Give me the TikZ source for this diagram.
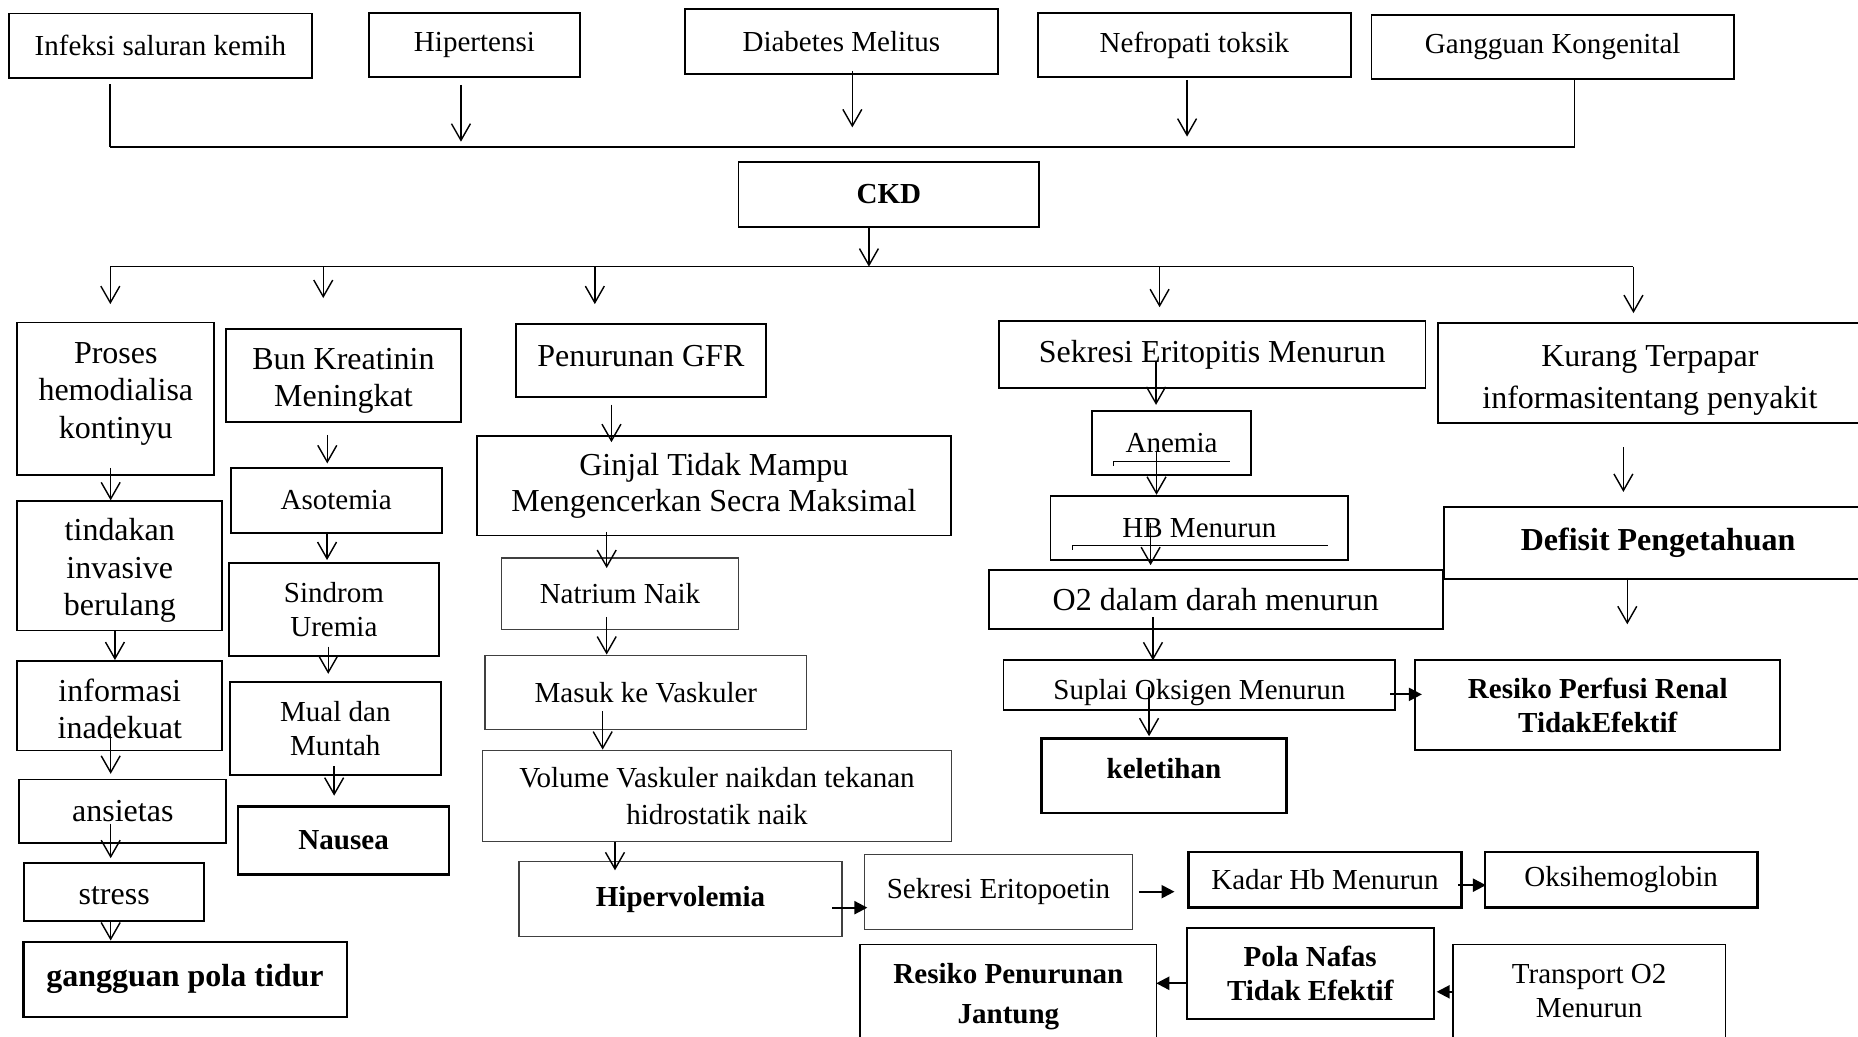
\documentclass[tikz,border=0pt]{standalone}
\usepackage{fontspec}
\setmainfont{Liberation Serif}
\usetikzlibrary{arrows.meta}
\tikzset{
 box/.style={draw=black, line width=1.5pt, inner sep=0pt, align=center, font=\fontsize{24.5}{28.5}\selectfont},
 big/.style={font=\fontsize{27}{31.5}\selectfont},
 bigb/.style={font=\fontsize{27}{31.5}\selectfont\bfseries},
 smb/.style={font=\fontsize{24.5}{28.5}\selectfont\bfseries},
 thinb/.style={line width=1pt, draw=black!75},
 thickb/.style={line width=2pt},
 tup/.style={text depth=#1},
 tdn/.style={text height=#1},
 ln/.style={line width=1.4pt},
 arr/.style={line width=1.2pt, -{Straight Barb[length=14pt,width=16pt,line width=1.2pt]}},
 tarr/.style={line width=1.8pt, -{Triangle[length=11pt,width=11pt]}},
}
\newcommand\bx[7][]{%
  \pgfmathsetmacro\bxW{#5-#3}%
  \pgfmathsetmacro\bxH{#6-#4}%
  \pgfmathsetmacro\bxX{(#3+#5)/2}%
  \pgfmathsetmacro\bxY{(#4+#6)/2}%
  \node[box,minimum width=\bxW pt,minimum height=\bxH pt,#1] (#2) at (\bxX,\bxY) {#7};%
}
\begin{document}
\begin{tikzpicture}[x=1pt,y=-1pt]
\path[use as bounding box, clip] (0,0) rectangle (1568,875);
\fill[white] (0,0) rectangle (1568,875);

% top row
\bx{inf}{7.5}{11.3}{263.3}{66.1}{Infeksi saluran kemih}
\bx{hip}{311.3}{10.7}{489.5}{65.3}{Hipertensi}
\bx{diab}{578}{7.9}{842}{62.5}{Diabetes Melitus}
\bx{nef}{876}{10.7}{1140}{65.3}{Nefropati toksik}
\bx{gang}{1157.5}{12.4}{1463.2}{66.7}{Gangguan Kongenital}
\bx[smb]{ckd}{623.2}{137}{877}{191.3}{CKD}

% column 1
\bx[big,tup=13.9pt]{proses}{14.6}{272.2}{180.9}{400.8}{Proses\\hemodialisa\\kontinyu}
\bx[big,tdn=89.4pt]{tind}{14.6}{423}{187.6}{532}{tindakan\\invasive\\berulang}
\bx[big,tdn=55.9pt]{info}{14.6}{557.8}{187.6}{633.3}{informasi\\inadekuat}
\bx[big]{ans}{16.3}{657.8}{191}{711.4}{ansietas}
\bx[big,tdn=21.6pt]{stress}{20.5}{728}{172.2}{777}{stress}
\bx[bigb,thickb]{gpt}{19.7}{794.7}{292.6}{858.3}{gangguan pola tidur}

% column 2
\bx[big,tdn=57.9pt]{bun}{190.7}{277.7}{389}{356.3}{Bun Kreatinin\\Meningkat}
\bx{aso}{194.7}{394.8}{372.7}{449.6}{Asotemia}
\bx{sin}{193}{475.4}{370.5}{553.5}{Sindrom\\Uremia}
\bx{mual}{194.1}{575.4}{371.9}{654}{Mual dan\\Muntah}
\bx[smb,thickb]{naus}{201.1}{680.5}{378.9}{738}{Nausea}

% column 3
\bx[big,tup=8pt]{pen}{435.2}{273.4}{646.4}{334.8}{Penurunan GFR}
\bx[font=\fontsize{27}{30.5}\selectfont]{ginjal}{402.3}{367.9}{802.6}{452}{Ginjal Tidak Mampu\\Mengencerkan Secra Maksimal}
\bx[thinb]{natr}{423.4}{470.9}{623}{531.5}{Natrium Naik}
\bx[thinb]{masuk}{409.3}{552.9}{680.8}{615.9}{Masuk ke Vaskuler}
\bx[thinb,font=\fontsize{24.5}{31}\selectfont]{vol}{407}{633.1}{803.2}{709.9}{Volume Vaskuler naikdan tekanan\\hidrostatik naik}
\bx[smb,thinb]{hiper}{438}{727}{710.6}{790.5}{Hipervolemia}

% bottom row
\bx[thinb]{sekE}{729.7}{721}{955.6}{784.3}{Sekresi Eritopoetin}
\bx[thickb]{kadar}{1003}{718.8}{1233.3}{765.7}{Kadar Hb Menurun}
\bx[thickb]{oksi}{1253}{718.8}{1483.3}{765.7}{Oksihemoglobin}
\bx[font=\fontsize{24.5}{34}\selectfont\bfseries]{resP}{726}{797}{976}{885}{Resiko Penurunan\\Jantung}
\bx[smb,thickb]{pola}{1001.6}{783.4}{1209.9}{859.7}{Pola Nafas\\Tidak Efektif}
\bx{trans}{1226}{797}{1456.2}{876}{Transport O2\\Menurun}

% column 4
\bx[big]{sekr}{843}{270.6}{1203}{327.6}{Sekresi Eritopitis Menurun}
\bx[thickb]{anem}{921.6}{346.6}{1055.8}{400.9}{Anemia}
\bx{hb}{886.5}{418.3}{1137.9}{472.3}{HB Menurun}
\bx[big]{o2}{834.3}{480.7}{1217.6}{531}{O2 dalam darah menurun}
\bx[tdn=30.7pt]{supl}{846.9}{557}{1177.5}{599}{Suplai Oksigen Menurun}
\bx[smb,thickb,tup=12pt]{kelet}{878.8}{623.3}{1085.7}{686.3}{keletihan}
\bx[smb]{resR}{1194.4}{557}{1502.3}{633}{Resiko Perfusi Renal\\TidakEfektif}

% column 5
\bx[font=\fontsize{27}{35}\selectfont,tdn=64.9pt]{kur}{1213.7}{272.8}{1571}{357.2}{Kurang Terpapar\\informasitentang penyakit}
\bx[bigb]{def}{1218.6}{427.9}{1580}{488.9}{Defisit Pengetahuan}

% stray lines
\draw[line width=1pt] (939.7,393) -- (939.7,389.4) -- (1038,389.4);
\draw[line width=1pt] (904.8,464) -- (904.8,460.5) -- (1120.7,460.5);

% buses
\coordinate (busA) at (93.1,123.8);
\coordinate (busB) at (1328.7,123.8);
\coordinate (bus2L) at (93.1,225);
\coordinate (bus2R) at (1378.5,225);

\draw[ln, shorten <=4.2pt] (inf.south-|busA) -- (busA);
\draw[ln] (gang.south-|busB) -- (busB) -- (busA);
\draw[arr, shorten <=5.6pt, shorten >=4.2pt] (hip.south-|389,0) -- (busA-|389,0);
\draw[arr, shorten <=-3.5pt, shorten >=16.3pt] (diab.south-|719.3,0) -- (busA-|719.3,0);
\draw[arr, shorten <=1.4pt, shorten >=8.5pt] (nef.south-|1001.8,0) -- (busA-|1001.8,0);
\draw[arr] (ckd.south-|733.3,0) -- (bus2L-|733.3,0);
\draw[ln] (bus2L) -- (bus2R);
\draw[arr, shorten >=14.8pt] (bus2L) -- (proses.north-|bus2L);
\draw[arr, shorten >=25.4pt] (bus2L-|272.8,0) -- (bun.north-|272.8,0);
\draw[arr, shorten >=16pt] (bus2L-|502,0) -- (pen.north-|502,0);
\draw[arr, shorten >=10.6pt] (bus2L-|978.6,0) -- (sekr.north-|978.6,0);
\draw[arr, shorten >=7.8pt] (bus2R) -- (kur.north-|bus2R);

% column 1 arrows
\draw[arr, shorten <=-6.8pt] (proses.south-|93.4,0) -- (tind.north-|93.4,0);
\draw[arr] (tind.south-|97,0) -- (info.north-|97,0);
\draw[arr, shorten <=-15pt, shorten >=4pt] (info.south-|93.4,0) -- (ans.north-|93.4,0);
\draw[arr, shorten <=-17pt, shorten >=3pt] (ans.south-|93.4,0) -- (stress.north-|93.4,0);
\draw[arr] (stress.south-|93.4,0) -- (gpt.north-|93.4,0);

% column 2 arrows
\draw[arr, shorten <=10pt, shorten >=3pt] (bun.south-|276.2,0) -- (aso.north-|276.2,0);
\draw[arr, shorten <=-1.6pt, shorten >=2pt] (aso.south-|276,0) -- (sin.north-|276,0);
\draw[arr, shorten <=-8.5pt, shorten >=6pt] (sin.south-|277,0) -- (mual.north-|277,0);
\draw[arr, shorten <=-8pt, shorten >=8pt] (mual.south-|282,0) -- (naus.north-|282,0);

% column 3 arrows
\draw[arr, shorten <=6pt, shorten >=-6pt] (pen.south-|516,0) -- (ginjal.north-|516,0);
\draw[arr, shorten <=-4pt, shorten >=-9pt] (ginjal.south-|512,0) -- (natr.north-|512,0);
\draw[arr, shorten <=-11.5pt] (natr.south-|512,0) -- (masuk.north-|512,0);
\draw[arr, shorten <=-16pt] (masuk.south-|508.6,0) -- (vol.north-|508.6,0);
\draw[arr, shorten >=-8pt] (vol.south-|519,0) -- (hiper.north-|519,0);

% horizontal arrows
\draw[tarr, shorten <=-8.6pt, shorten >=-2.8pt] (hiper.east|-0,766) -- (sekE.west|-0,766);
\draw[tarr, shorten <=5pt, shorten >=10.8pt] (sekE.east|-0,752.5) -- (kadar.west|-0,752.5);
\draw[tarr, shorten <=-3.7pt, shorten >=-2pt] (kadar.east|-0,747) -- (oksi.west|-0,747);
\draw[tarr, shorten <=-1.4pt, shorten >=-1pt] (pola.west|-0,829.8) -- (resP.east|-0,829.8);
\draw[tarr, shorten >=1.5pt] (trans.west|-0,837) -- (pola.east|-0,837);
\draw[tarr, shorten <=-4.8pt, shorten >=-6.3pt] (supl.east|-0,586) -- (resR.west|-0,586);

% column 4 arrows
\draw[arr, shorten <=-23.6pt, shorten >=3.9pt] (sekr.south-|975.6,0) -- (anem.north-|975.6,0);
\draw[arr, shorten <=-21pt] (anem.south-|976,0) -- (hb.north-|976,0);
\draw[arr, shorten <=-31.7pt, shorten >=3pt] (hb.south-|971,0) -- (o2.north-|971,0);
\draw[arr, shorten <=-11pt, shorten >=-1pt] (o2.south-|973,0) -- (supl.north-|973,0);
\draw[arr, shorten <=-20.3pt, shorten >=1pt] (supl.south-|969.7,0) -- (kelet.north-|969.7,0);

% column 5 arrows
\draw[arr, shorten <=19.5pt, shorten >=12pt] (kur.south-|1370,0) -- (def.north-|1370,0);
\draw[arr] (def.south-|1373.3,0) ++(0,-2) -- ++(0,39.2);
\end{tikzpicture}
\end{document}
